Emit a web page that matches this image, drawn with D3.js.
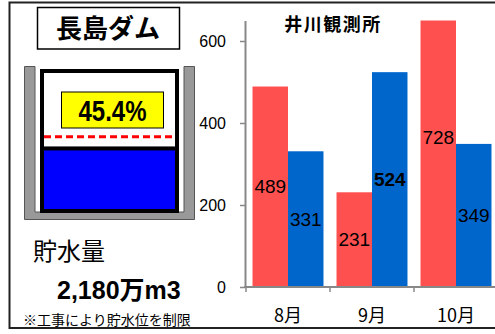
<!DOCTYPE html>
<html>
<head>
<meta charset="utf-8">
<script src="https://cdn.jsdelivr.net/npm/d3@7"></script>
<style>
  body { margin: 0; background: #fff; }
  svg { display: block; }
  .jp { font-family: "Noto Sans CJK JP", sans-serif; }
  .num { font-family: "Liberation Sans", Arial, "Noto Sans CJK JP", sans-serif; }
</style>
</head>
<body>
<div id="chart"></div>
<script>
// chart data
var damName = "長島ダム";
var stationName = "井川観測所";
var months = ["8月", "9月", "10月"];
var seriesA = [489, 231, 728];   // red
var seriesB = [331, 524, 349];   // blue
var boldB = [false, true, false];
var yTicks = [0, 200, 400, 600];
var ratePct = 45.4;
var storageText = "2,180万m3";
var noteText = "※工事により貯水位を制限";

var svgWidth = 495;
var svgHeight = 334;

var svg = d3.select("#chart")
  .append("svg")
  .attr("width", svgWidth)
  .attr("height", svgHeight);

// outer frame
svg.append("rect")
  .attr("x", 9.5).attr("y", 2.5)
  .attr("width", 500).attr("height", 325.5)
  .attr("fill", "none")
  .attr("stroke", "#222")
  .attr("stroke-width", 2);

// ---- left panel ----
svg.append("rect")
  .attr("x", 37.5).attr("y", 7.5)
  .attr("width", 142).attr("height", 41.5)
  .attr("fill", "#fff")
  .attr("stroke", "#000")
  .attr("stroke-width", 1.5);

svg.append("text")
  .attr("class", "jp")
  .attr("x", 108).attr("y", 38)
  .attr("text-anchor", "middle")
  .style("font-size", "26px")
  .style("font-weight", "bold")
  .text(damName);

// dam walls (grey U)
svg.append("path")
  .attr("d", "M24.5,66.5 H35 V212 H184 V66.5 H194.5 V219.5 H24.5 Z")
  .attr("fill", "#999")
  .attr("stroke", "#555")
  .attr("stroke-width", 1);

// reservoir box
var boxTop = 71, boxBottom = 211;
svg.append("rect")
  .attr("x", 42).attr("y", boxTop)
  .attr("width", 135).attr("height", boxBottom - boxTop)
  .attr("fill", "#fff")
  .attr("stroke", "#000")
  .attr("stroke-width", 4);

// water level scale inside the box
var level = d3.scaleLinear().domain([0, 100]).range([boxBottom, boxTop]);

svg.append("rect")
  .attr("x", 42).attr("y", level(ratePct) + 1)
  .attr("width", 135).attr("height", boxBottom - level(ratePct) - 1)
  .attr("fill", "#0000ff")
  .attr("stroke", "#000")
  .attr("stroke-width", 4);

// restricted level (dashed)
svg.append("line")
  .attr("x1", 44).attr("x2", 175)
  .attr("y1", 136.7).attr("y2", 136.7)
  .attr("stroke", "#ff0000")
  .attr("stroke-width", 3)
  .attr("stroke-dasharray", "7,4");

svg.append("rect")
  .attr("x", 61.5).attr("y", 92)
  .attr("width", 102).attr("height", 36)
  .attr("fill", "#ffff00")
  .attr("stroke", "#000")
  .attr("stroke-width", 1);

svg.append("text")
  .attr("class", "num")
  .attr("x", 112.5).attr("y", 121)
  .attr("text-anchor", "middle")
  .style("font-size", "29px")
  .style("font-weight", "bold")
  .attr("textLength", 68)
  .attr("lengthAdjust", "spacingAndGlyphs")
  .text(ratePct.toFixed(1) + "%");

svg.append("text")
  .attr("class", "jp")
  .attr("x", 33).attr("y", 260)
  .style("font-size", "24px")
  .text("貯水量");

svg.append("text")
  .attr("class", "num")
  .attr("x", 57).attr("y", 299)
  .style("font-size", "25px")
  .style("font-weight", "bold")
  .text(storageText);

svg.append("text")
  .attr("class", "jp")
  .attr("x", 23).attr("y", 325)
  .style("font-size", "14px")
  .text(noteText);

// ---- bar chart ----
var x0 = d3.scaleBand()
  .domain(months)
  .range([246, 498])
  .paddingInner(0.155)
  .paddingOuter(0.0775);

var x1 = d3.scaleBand()
  .domain(["a", "b"])
  .range([0, x0.bandwidth()]);

var y = d3.scaleLinear()
  .domain([0, 650])
  .range([287, 20.5]);

var barData = months.map(function(m, i) {
  return [
    { month: m, key: "a", value: seriesA[i], bold: false },
    { month: m, key: "b", value: seriesB[i], bold: boldB[i] }
  ];
});

svg.append("clipPath")
  .attr("id", "plotClip")
  .append("rect")
  .attr("x", 240).attr("y", 20.5)
  .attr("width", 260).attr("height", 270);

var colors = { a: "#ff5050", b: "#0066cc" };

var groups = svg.append("g")
  .attr("clip-path", "url(#plotClip)")
  .selectAll("g")
  .data(barData)
  .enter()
  .append("g")
  .attr("transform", d => `translate(${x0(d[0].month)},0)`);

groups.selectAll("rect")
  .data(d => d)
  .enter()
  .append("rect")
  .attr("x", d => x1(d.key))
  .attr("y", d => y(d.value))
  .attr("width", x1.bandwidth())
  .attr("height", d => y(0) - y(d.value))
  .attr("fill", d => colors[d.key]);

groups.selectAll("text")
  .data(d => d)
  .enter()
  .append("text")
  .attr("class", "num")
  .attr("x", d => x1(d.key) + x1.bandwidth() / 2)
  .attr("y", d => y(d.value / 2))
  .attr("dy", "0.35em")
  .attr("text-anchor", "middle")
  .style("font-size", "19px")
  .style("font-weight", d => d.bold ? "bold" : "normal")
  .text(d => d.value);

// y axis
var leftAxis = d3.axisLeft(y)
  .tickValues(yTicks)
  .tickSize(5)
  .tickSizeOuter(0)
  .tickPadding(14);

var yAxisG = svg.append("g")
  .attr("transform", "translate(245,0)")
  .call(leftAxis);

yAxisG.select(".domain").attr("stroke", "#888").attr("stroke-width", 2);
yAxisG.selectAll(".tick line").attr("stroke", "#888").attr("stroke-width", 1.5);
yAxisG.selectAll(".tick text")
  .attr("class", "num")
  .style("font-size", "16px")
  .attr("fill", "#000");

// x axis
svg.append("line")
  .attr("x1", 244).attr("x2", 495)
  .attr("y1", y(0)).attr("y2", y(0))
  .attr("stroke", "#888")
  .attr("stroke-width", 2);

var step = x0.step();
var boundaries = months.map(m => x0(m) - x0.paddingInner() * step / 2);

svg.selectAll(".xtick")
  .data(boundaries)
  .enter()
  .append("line")
  .attr("class", "xtick")
  .attr("x1", d => d).attr("x2", d => d)
  .attr("y1", y(0)).attr("y2", y(0) + 5)
  .attr("stroke", "#888")
  .attr("stroke-width", 1.5);

svg.selectAll(".xlabel")
  .data(months)
  .enter()
  .append("text")
  .attr("class", "xlabel jp")
  .attr("x", d => x0(d) + x0.bandwidth() / 2)
  .attr("y", 322)
  .attr("text-anchor", "middle")
  .style("font-size", "18px")
  .text(d => d);

// station title
svg.append("text")
  .attr("class", "jp")
  .attr("x", 333).attr("y", 31)
  .attr("text-anchor", "middle")
  .style("font-size", "18px")
  .style("font-weight", "bold")
  .style("letter-spacing", "1.5px")
  .text(stationName);
</script>
</body>
</html>
